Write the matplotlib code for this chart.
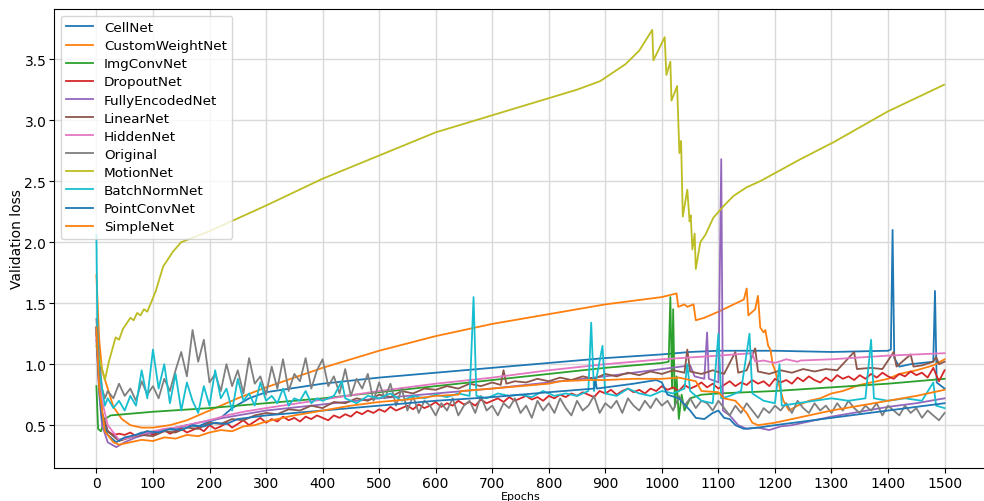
import numpy as np
import matplotlib
matplotlib.use("Agg")
import matplotlib.pyplot as plt

# ---- data (epoch, validation loss) ----
cellnet_ep = [0, 5, 10, 20, 40, 60, 80, 100, 120, 140, 160, 180, 200, 220, 240, 270, 300,
              400, 500, 600, 700, 800, 900, 1000, 1050, 1100, 1200, 1300, 1400, 1405, 1408,
              1411, 1420, 1440, 1460, 1480, 1483, 1486, 1500]
cellnet_val = [1.30, 0.85, 0.60, 0.45, 0.38, 0.40, 0.44, 0.43, 0.47, 0.46, 0.50, 0.49, 0.53,
               0.56, 0.64, 0.72, 0.77, 0.84, 0.89, 0.93, 0.97, 1.01, 1.05, 1.08, 1.10, 1.11,
               1.11, 1.10, 1.11, 1.12, 2.10, 1.05, 0.98, 1.00, 1.01, 1.02, 1.60, 0.85, 0.80]

customweight_ep = [0, 5, 10, 20, 30, 45, 60, 80, 100, 130, 160, 200, 250, 300, 400, 500, 600,
                   700, 800, 900, 1000, 1026, 1029, 1040, 1045, 1056, 1060, 1075, 1100, 1145,
                   1150, 1153, 1165, 1170, 1174, 1180, 1183, 1188, 1192, 1196, 1200, 1206,
                   1215, 1225, 1240, 1260, 1280, 1300, 1320, 1350, 1380, 1400, 1420, 1450,
                   1480, 1500]
customweight_val = [1.73, 1.20, 0.95, 0.80, 0.65, 0.55, 0.50, 0.48, 0.48, 0.50, 0.54, 0.62,
                    0.72, 0.81, 0.97, 1.11, 1.23, 1.33, 1.41, 1.49, 1.55, 1.58, 1.47, 1.49,
                    1.47, 1.49, 1.36, 1.38, 1.43, 1.53, 1.62, 1.40, 1.45, 1.56, 1.30, 1.26,
                    1.28, 1.15, 1.12, 1.00, 0.95, 0.85, 0.70, 0.62, 0.66, 0.70, 0.72, 0.76,
                    0.78, 0.83, 0.86, 0.88, 0.92, 0.95, 0.99, 1.04]

imgconv_ep = [0, 3, 8, 15, 25, 50, 100, 200, 300, 400, 500, 600, 700, 800, 900, 1000, 1012,
              1015, 1018, 1020, 1023, 1026, 1030, 1035, 1040, 1050, 1070, 1100, 1200, 1300,
              1400, 1500]
imgconv_val = [0.82, 0.47, 0.45, 0.55, 0.58, 0.59, 0.61, 0.64, 0.68, 0.72, 0.77, 0.82, 0.87,
               0.92, 0.97, 1.01, 1.02, 1.55, 0.80, 1.45, 0.65, 0.90, 0.55, 0.75, 0.62, 0.72,
               0.75, 0.76, 0.78, 0.81, 0.84, 0.88]

dropout_ep = [0, 5, 10, 20, 30, 40] + list(range(50, 1501, 10))
dropout_val = [1.25, 0.80, 0.55, 0.45, 0.42, 0.43,
               0.42, 0.44, 0.41, 0.43, 0.45, 0.42, 0.44, 0.46, 0.43, 0.45,
               0.47, 0.44, 0.46, 0.48, 0.45, 0.50, 0.47, 0.49, 0.52, 0.48,
               0.51, 0.54, 0.50, 0.53, 0.56, 0.52, 0.55, 0.53, 0.57, 0.54,
               0.56, 0.53, 0.57, 0.55, 0.58, 0.56, 0.54, 0.58, 0.56, 0.59,
               0.57, 0.61, 0.59, 0.62, 0.60, 0.63, 0.61, 0.65, 0.62, 0.64,
               0.66, 0.63, 0.67, 0.64, 0.66, 0.69, 0.65, 0.68, 0.66, 0.70,
               0.67, 0.69, 0.66, 0.71, 0.68, 0.70, 0.72, 0.69, 0.73, 0.70,
               0.72, 0.74, 0.71, 0.73, 0.70, 0.74, 0.72, 0.75, 0.73, 0.76,
               0.74, 0.77, 0.75, 0.73, 0.78, 0.76, 0.79, 0.75, 0.78, 0.80,
               0.77, 0.79, 0.76, 0.80, 0.78, 0.82, 0.79, 0.81, 0.78, 0.83,
               0.80, 0.82, 0.85, 0.81, 0.84, 0.80, 0.83, 0.86, 0.82, 0.85,
               0.83, 0.87, 0.84, 0.86, 0.82, 0.88, 0.85, 0.87, 0.84, 0.89,
               0.86, 0.90, 0.87, 0.85, 0.89, 0.86, 0.91, 0.88, 0.90, 0.87,
               0.91, 0.88, 0.92, 0.89, 0.93, 0.90, 0.88, 0.92, 0.90, 0.94,
               0.91, 0.93, 0.89, 0.97, 0.86, 0.95]

fullyenc_ep = [0, 5, 10, 20, 35, 50, 70, 100, 130, 160, 200, 250, 300, 400, 500, 600, 700,
               800, 900, 1000, 1050, 1058, 1075, 1080, 1083, 1095, 1100, 1105, 1108, 1120,
               1135, 1150, 1170, 1190, 1210, 1230, 1260, 1300, 1350, 1400, 1450, 1500]
fullyenc_val = [1.20, 0.75, 0.50, 0.36, 0.32, 0.36, 0.40, 0.44, 0.47, 0.50, 0.54, 0.58,
                0.62, 0.67, 0.72, 0.76, 0.80, 0.85, 0.90, 0.96, 0.99, 0.90, 0.88, 1.26,
                0.88, 0.86, 0.85, 2.68, 0.62, 0.58, 0.50, 0.47, 0.48, 0.46, 0.49, 0.50,
                0.53, 0.57, 0.61, 0.65, 0.68, 0.72]

linear_ep = [0, 5, 10, 20, 40, 60, 80, 100, 120, 140, 160, 180, 200, 220, 240, 260, 280, 300,
             320, 340, 360, 380, 400, 420, 440, 460, 480, 500, 520, 540, 560, 580, 600, 620,
             640, 660, 680, 700, 715, 720, 725, 740, 760, 780, 800, 820, 840, 860, 880, 900,
             920, 940, 960, 980, 1000, 1020, 1040, 1045, 1050, 1070, 1090, 1110, 1130, 1135,
             1150, 1165, 1170, 1190, 1210, 1230, 1250, 1270, 1290, 1310, 1340, 1345, 1370,
             1390, 1410, 1415, 1440, 1445, 1460, 1480, 1485, 1490, 1500]
linear_val = [1.30, 0.85, 0.60, 0.45, 0.37, 0.40, 0.42, 0.41, 0.45, 0.44, 0.48, 0.47, 0.52,
              0.51, 0.55, 0.54, 0.58, 0.60, 0.59, 0.63, 0.62, 0.66, 0.64, 0.69, 0.68, 0.72,
              0.70, 0.75, 0.73, 0.78, 0.76, 0.80, 0.79, 0.82, 0.80, 0.84, 0.82, 0.85, 0.83,
              0.95, 0.84, 0.86, 0.85, 0.88, 0.86, 0.89, 0.87, 0.90, 0.88, 0.92, 0.90, 0.93,
              0.91, 0.94, 0.92, 0.95, 0.93, 1.12, 0.94, 0.92, 0.95, 0.92, 1.10, 0.93, 0.95,
              1.13, 0.94, 0.92, 0.95, 0.93, 0.96, 0.94, 0.96, 0.95, 1.10, 0.96, 0.97, 0.96,
              1.10, 0.98, 1.08, 0.98, 0.99, 1.02, 1.06, 1.00, 1.02]

hidden_ep = [0, 5, 10, 20, 40, 60, 80, 100, 120, 140, 160, 180, 200, 230, 260, 300, 400,
             500, 600, 700, 800, 900, 1000, 1100, 1160, 1165, 1180, 1200, 1220, 1240, 1245,
             1300, 1400, 1500]
hidden_val = [1.30, 0.90, 0.70, 0.50, 0.38, 0.40, 0.43, 0.45, 0.47, 0.48, 0.50, 0.52, 0.54,
              0.58, 0.61, 0.64, 0.71, 0.78, 0.84, 0.89, 0.95, 1.00, 1.04, 1.07, 1.09, 1.02,
              1.03, 1.01, 1.04, 1.02, 1.03, 1.04, 1.07, 1.09]

original_ep = [0, 5, 10, 15] + list(range(20, 1501, 10))
original_val = [1.37, 1.05, 0.80, 0.72,
                0.78, 0.72, 0.84, 0.74, 0.80, 0.70, 0.86, 0.75, 0.82,
                0.72, 0.88, 0.78, 0.95, 1.10, 0.90, 1.28, 1.02, 1.20, 0.85,
                0.92, 0.78, 1.00, 0.82, 0.95, 0.76, 1.05, 0.84, 0.90, 0.75,
                0.98, 0.80, 1.04, 0.78, 0.92, 0.86, 1.05, 0.80, 0.95, 1.04,
                0.82, 0.90, 0.76, 0.96, 0.74, 0.88, 0.80, 0.92, 0.70, 0.85,
                0.72, 0.84, 0.66, 0.80, 0.62, 0.74, 0.60, 0.70, 0.66, 0.58,
                0.68, 0.62, 0.72, 0.58, 0.66, 0.70, 0.60, 0.74, 0.62, 0.66,
                0.58, 0.68, 0.64, 0.72, 0.60, 0.66, 0.56, 0.70, 0.62, 0.68,
                0.60, 0.72, 0.64, 0.58, 0.70, 0.62, 0.66, 0.74, 0.60, 0.68,
                0.64, 0.70, 0.60, 0.72, 0.66, 0.62, 0.70, 0.64, 0.72, 0.66,
                0.70, 0.62, 0.74, 0.66, 0.72, 0.64, 0.70, 0.68, 0.62, 0.70,
                0.64, 0.58, 0.66, 0.60, 0.68, 0.62, 0.56, 0.64, 0.60, 0.66,
                0.62, 0.68, 0.60, 0.70, 0.64, 0.60, 0.68, 0.62, 0.66, 0.60,
                0.68, 0.62, 0.70, 0.64, 0.60, 0.66, 0.62, 0.68, 0.58, 0.66,
                0.62, 0.58, 0.66, 0.60, 0.64, 0.56, 0.62, 0.58, 0.54, 0.60]

motion_ep = [0, 8, 15, 22, 28, 34, 40, 47, 53, 60, 66, 72, 78, 84, 90, 98, 105, 118, 135,
             150, 200, 300, 400, 500, 600, 700, 800, 850, 891, 936, 960, 983, 985, 1005,
             1008, 1015, 1017, 1027, 1031, 1034, 1037, 1045, 1049, 1051, 1054, 1058, 1060,
             1068, 1077, 1091, 1110, 1127, 1150, 1174, 1245, 1304, 1399, 1499]
motion_val = [1.15, 1.00, 0.87, 1.02, 1.12, 1.22, 1.20, 1.29, 1.33, 1.38, 1.36, 1.42, 1.40,
              1.45, 1.43, 1.52, 1.60, 1.80, 1.92, 2.00, 2.09, 2.30, 2.52, 2.71, 2.90, 3.04,
              3.18, 3.25, 3.32, 3.46, 3.57, 3.74, 3.49, 3.68, 3.37, 3.48, 3.16, 3.28, 2.73,
              2.83, 2.21, 2.43, 2.17, 2.22, 1.94, 2.07, 1.78, 2.00, 2.06, 2.20, 2.30, 2.38,
              2.45, 2.50, 2.68, 2.82, 3.07, 3.29]

batchnorm_ep = [0, 2, 5, 10, 15, 20, 30, 40, 50, 60, 70, 80, 90, 100, 110, 120, 130, 140,
                150, 160, 170, 180, 190, 200, 210, 220, 230, 240, 250, 260, 270, 280, 290,
                300, 310, 320, 330, 340, 350, 360, 370, 380, 390, 400, 420, 434, 440, 460,
                480, 500, 520, 540, 560, 580, 600, 620, 640, 660, 667, 672, 690, 710, 730,
                750, 770, 790, 810, 830, 850, 870, 875, 880, 895, 900, 920, 940, 960, 980,
                1000, 1020, 1040, 1045, 1050, 1070, 1090, 1100, 1105, 1120, 1140, 1155, 1160,
                1180, 1200, 1208, 1212, 1240, 1270, 1300, 1330, 1360, 1370, 1375, 1400, 1430,
                1460, 1480, 1485, 1500]
batchnorm_val = [2.06, 1.20, 0.95, 0.80, 0.66, 0.72, 0.64, 0.70, 0.62, 0.74, 0.66, 0.95,
                 0.72, 1.12, 0.80, 1.00, 0.68, 0.92, 0.62, 0.85, 0.70, 0.60, 0.82, 0.66,
                 0.95, 0.72, 0.80, 0.62, 0.88, 0.70, 0.76, 0.66, 0.85, 0.70, 0.74, 0.68,
                 0.80, 0.66, 0.72, 0.70, 0.78, 0.68, 0.72, 0.70, 0.74, 0.86, 0.72, 0.68,
                 0.74, 0.72, 0.76, 0.70, 0.74, 0.72, 0.75, 0.73, 0.76, 0.74, 1.55, 0.74,
                 0.72, 0.76, 0.74, 0.75, 0.73, 0.78, 0.74, 0.76, 0.74, 0.78, 1.34, 0.78,
                 1.15, 0.76, 0.74, 0.80, 0.76, 0.74, 0.78, 0.76, 0.80, 1.00, 0.78, 0.70,
                 0.68, 1.25, 0.72, 0.74, 0.78, 1.25, 0.76, 0.70, 0.68, 1.00, 0.66, 0.68,
                 0.70, 0.72, 0.70, 0.72, 1.20, 0.72, 0.70, 0.72, 0.70, 0.85, 0.66, 0.64]

pointconv_ep = [0, 5, 10, 20, 35, 50, 70, 90, 110, 130, 150, 170, 190, 210, 230, 250, 300,
                400, 500, 600, 700, 800, 880, 882, 885, 950, 990, 1000, 1010, 1030, 1050,
                1060, 1075, 1090, 1100, 1110, 1120, 1130, 1145, 1170, 1200, 1300, 1400, 1500]
pointconv_val = [1.30, 0.80, 0.55, 0.42, 0.36, 0.40, 0.42, 0.45, 0.44, 0.47, 0.46, 0.50,
                 0.49, 0.52, 0.51, 0.55, 0.58, 0.62, 0.66, 0.70, 0.73, 0.77, 0.80, 0.88,
                 0.80, 0.84, 0.87, 0.85, 0.75, 0.72, 0.62, 0.56, 0.55, 0.60, 0.62, 0.56,
                 0.55, 0.50, 0.47, 0.48, 0.50, 0.56, 0.62, 0.68]

simple_ep = [0, 5, 15, 30, 40, 60, 80, 100, 120, 140, 160, 180, 200, 220, 240, 260, 280, 300,
             320, 350, 400, 450, 500, 550, 600, 640, 645, 700, 750, 800, 820, 870, 900, 950,
             1000, 1030, 1060, 1070, 1100, 1110, 1130, 1150, 1160, 1170, 1200, 1250, 1300,
             1350, 1400, 1450, 1500]
simple_val = [1.30, 0.80, 0.45, 0.36, 0.34, 0.36, 0.38, 0.37, 0.40, 0.39, 0.42, 0.41, 0.44,
              0.46, 0.45, 0.49, 0.50, 0.53, 0.55, 0.58, 0.62, 0.66, 0.69, 0.71, 0.74, 0.75,
              0.78, 0.80, 0.82, 0.84, 0.86, 0.87, 0.87, 0.88, 0.88, 0.89, 0.86, 0.78, 0.77,
              0.72, 0.70, 0.60, 0.52, 0.50, 0.52, 0.57, 0.62, 0.66, 0.70, 0.74, 0.79]

series = [
    ("CellNet", cellnet_ep, cellnet_val),
    ("CustomWeightNet", customweight_ep, customweight_val),
    ("ImgConvNet", imgconv_ep, imgconv_val),
    ("DropoutNet", dropout_ep, dropout_val),
    ("FullyEncodedNet", fullyenc_ep, fullyenc_val),
    ("LinearNet", linear_ep, linear_val),
    ("HiddenNet", hidden_ep, hidden_val),
    ("Original", original_ep, original_val),
    ("MotionNet", motion_ep, motion_val),
    ("BatchNormNet", batchnorm_ep, batchnorm_val),
    ("PointConvNet", pointconv_ep, pointconv_val),
    ("SimpleNet", simple_ep, simple_val),
]

fig = plt.figure(figsize=(9.84, 5.02), dpi=100)
ax = fig.add_axes([54 / 984, 33 / 502, 933 / 984, 459 / 502])

for name, ep, val in series:
    ax.plot(ep, val, label=name, linewidth=1.3)

ax.set_xticks(np.arange(0, 1501, 100))
ax.tick_params(labelsize=10, pad=2)
ax.grid(True, color="#d9d9d9", linewidth=1.0)
ax.set_xlabel("Epochs", fontsize=8, labelpad=1)
ax.set_ylabel("Validation loss", fontsize=10, labelpad=0)
ax.legend(loc="upper left", fontsize=9.7, labelspacing=0.38)

fig.savefig("out.png", dpi=100)
